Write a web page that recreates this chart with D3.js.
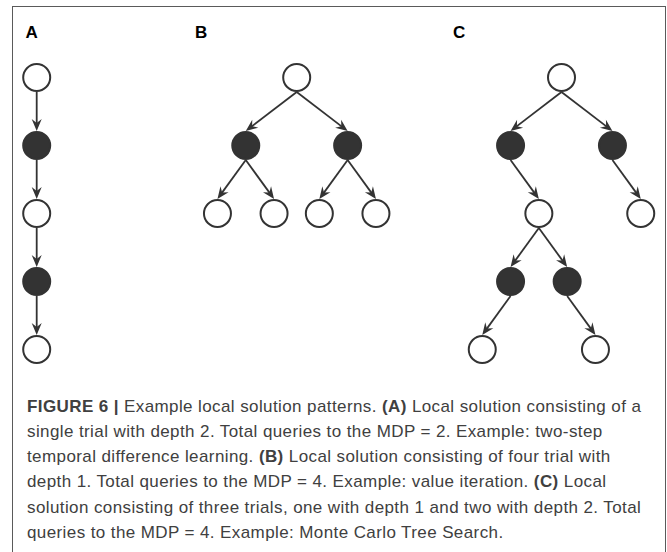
<!DOCTYPE html>
<html>
    <head>
        <style>
            body { margin: 0; background: white; }
            .frame { fill: none; stroke: #5a5a5a; stroke-width: 1; }
            .edge { stroke: #333; stroke-width: 1.8; fill: none; }
            .arrow { fill: #333; stroke: none; }
            .node { stroke: #333; stroke-width: 2; }
            .label { font-family: "Liberation Sans", Arial, sans-serif; font-weight: bold; font-size: 17px; fill: #000; }
            .caption { font-family: "Liberation Sans", Arial, sans-serif; font-size: 17px; letter-spacing: 0.4px; fill: #404040; }
        </style>
    </head>
    <body>
        <div id="plateau"></div>
        <script src="https://cdn.jsdelivr.net/npm/d3@7"></script>
        <script>

//////////////////// donnees ////////////////////
const panelLabels = ['A', 'B', 'C'];

// noeuds : id, parent, profondeur, position horizontale (unites), plein ou vide
const nodesA = [
    {id: 'a0', parent: null, depth: 0, x: 0, filled: false},
    {id: 'a1', parent: 'a0', depth: 1, x: 0, filled: true},
    {id: 'a2', parent: 'a1', depth: 2, x: 0, filled: false},
    {id: 'a3', parent: 'a2', depth: 3, x: 0, filled: true},
    {id: 'a4', parent: 'a3', depth: 4, x: 0, filled: false},
];
const nodesB = [
    {id: 'b0', parent: null, depth: 0, x: 0, filled: false},
    {id: 'b1', parent: 'b0', depth: 1, x: -1.8, filled: true},
    {id: 'b2', parent: 'b0', depth: 1, x: 1.8, filled: true},
    {id: 'b3', parent: 'b1', depth: 2, x: -2.8, filled: false},
    {id: 'b4', parent: 'b1', depth: 2, x: -0.8, filled: false},
    {id: 'b5', parent: 'b2', depth: 2, x: 0.8, filled: false},
    {id: 'b6', parent: 'b2', depth: 2, x: 2.8, filled: false},
];
const nodesC = [
    {id: 'c0', parent: null, depth: 0, x: 0, filled: false},
    {id: 'c1', parent: 'c0', depth: 1, x: -1.8, filled: true},
    {id: 'c2', parent: 'c0', depth: 1, x: 1.8, filled: true},
    {id: 'c3', parent: 'c1', depth: 2, x: -0.8, filled: false},
    {id: 'c4', parent: 'c2', depth: 2, x: 2.8, filled: false},
    {id: 'c5', parent: 'c3', depth: 3, x: -1.8, filled: true},
    {id: 'c6', parent: 'c3', depth: 3, x: 0.2, filled: true},
    {id: 'c7', parent: 'c5', depth: 4, x: -2.8, filled: false},
    {id: 'c8', parent: 'c6', depth: 4, x: 1.2, filled: false},
];

// legende : segments [texte, gras]
const captionLines = [
    [['FIGURE 6 | ', true], ['Example local solution patterns. ', false], ['(A)', true], [' Local solution consisting of a', false]],
    [['single trial with depth 2. Total queries to the MDP = 2. Example: two-step', false]],
    [['temporal difference learning. ', false], ['(B)', true], [' Local solution consisting of four trial with', false]],
    [['depth 1. Total queries to the MDP = 4. Example: value iteration. ', false], ['(C)', true], [' Local', false]],
    [['solution consisting of three trials, one with depth 1 and two with depth 2. Total', false]],
    [['queries to the MDP = 4. Example: Monte Carlo Tree Search.', false]],
];

//////////////////// mise en page ////////////////////
const W = 667, H = 552;
const R = 13.5;
const unit = 28.3;
const panelCenters = [36.7, 296.7, 561.5];
const labelX = [25.5, 195, 453];

const svg = d3.select('#plateau').append('svg')
    .attr('width', W)
    .attr('height', H);

svg.append('rect')
    .classed('frame', true)
    .attr('x', 12.5)
    .attr('y', 6.5)
    .attr('width', 653)
    .attr('height', 600);

const y = d3.scaleLinear().domain([0, 4]).range([77.5, 349.5]);

// etiquettes A B C
svg.selectAll('text.label')
    .data(panelLabels)
    .join('text')
    .classed('label', true)
    .attr('x', (d, i) => labelX[i])
    .attr('y', 38)
    .text(d => d);

function drawTree(nodes, idx) {
    const cx = panelCenters[idx];
    const x = d3.scaleLinear().domain([-1, 1]).range([cx - unit, cx + unit]);
    const byId = new Map(nodes.map(n => [n.id, n]));
    const g = svg.append('g').attr('id', 'panel' + panelLabels[idx]);

    const edges = nodes.filter(n => n.parent).map(n => ({src: byId.get(n.parent), dst: n}));

    edges.forEach(e => {
        const x1 = x(e.src.x), y1 = y(e.src.depth) + R + 1;
        const x2 = x(e.dst.x), y2 = y(e.dst.depth) - R - 1;
        const ang = Math.atan2(y2 - y1, x2 - x1);
        const back = 6;
        g.append('line')
            .classed('edge', true)
            .attr('x1', x1).attr('y1', y1)
            .attr('x2', x2 - back * Math.cos(ang))
            .attr('y2', y2 - back * Math.sin(ang));
        g.append('path')
            .classed('arrow', true)
            .attr('d', 'M0,0 L-12,-5 L-8,0 L-12,5 Z')
            .attr('transform', `translate(${x2},${y2}) rotate(${ang * 180 / Math.PI})`);
    });

    g.selectAll('circle')
        .data(nodes)
        .join('circle')
        .classed('node', true)
        .attr('cx', d => x(d.x))
        .attr('cy', d => y(d.depth))
        .attr('r', R)
        .attr('fill', d => d.filled ? '#333' : 'white');
}

[nodesA, nodesB, nodesC].forEach(drawTree);

// legende
const cap = svg.append('g');
captionLines.forEach((line, i) => {
    const t = cap.append('text')
        .classed('caption', true)
        .attr('x', 27)
        .attr('y', 411.7 + i * 25.2);
    line.forEach(([s, b]) => {
        t.append('tspan')
            .attr('font-weight', b ? 'bold' : null)
            .text(s);
    });
});

        </script>
    </body>
</html>
